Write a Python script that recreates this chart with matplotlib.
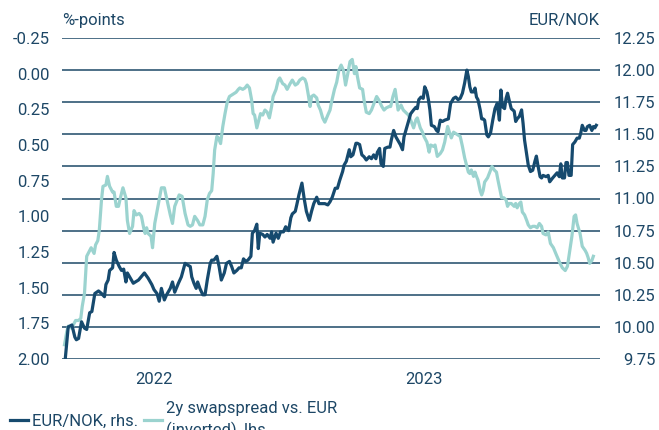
import pandas as pd
import matplotlib
matplotlib.use('Agg')
import matplotlib.pyplot as plt

plt.rcParams['font.family'] = ['Roboto', 'DejaVu Sans']

start = pd.Timestamp('2022-01-01')

# EUR/NOK (rhs), days after start
nok_days = [62, 66, 71, 75, 77, 80, 84, 88, 91, 95, 98, 102, 107, 111, 115, 117, 120, 122, 126, 128,
            131, 135, 138, 141, 144, 146, 149, 154, 161, 169, 174, 179, 182, 186, 189, 192, 196, 199, 204, 207,
            210, 215, 219, 224, 228,
            231, 233, 236, 239, 241, 244, 248, 251, 254, 258, 260, 263, 267, 270, 273, 277, 280, 284, 287, 290,
            294, 297, 300, 303, 306, 309, 313, 315, 318, 321, 323, 325, 329, 332, 335, 339, 341, 343, 347, 350,
            353, 357, 360, 364, 367, 369, 373, 375, 378, 382, 385, 388, 392, 395, 398, 402, 405, 409,
            413, 417, 420, 423, 427, 430, 433, 437, 439, 442, 446, 448, 451, 455, 457, 460, 463, 466, 469, 473,
            476, 479, 482, 484, 487, 489, 492, 494, 498, 501, 503, 506, 509, 511, 515, 518, 520, 524, 527, 529,
            533, 536, 538, 540, 543, 546, 548, 551, 553, 555, 557, 561, 564, 566, 569, 572, 575, 580, 583, 587,
            590, 593,
            596, 599, 602, 605, 607, 609, 611, 614, 616, 618, 620, 623, 625, 627, 629, 632, 634, 637, 640, 643,
            646, 649, 651, 653, 656, 658, 660, 662, 665, 669, 671, 673, 676, 679, 681, 683, 686, 688, 691, 694,
            697, 699, 701, 704, 706, 708, 712, 715, 717, 721, 724, 727, 730, 732, 734, 737, 739, 741, 743, 746,
            748, 751, 754, 757, 759, 761, 764, 766, 768, 771, 774, 776, 778, 780]
nok_vals = [9.75, 10.00, 10.015, 9.92, 9.90, 9.91, 10.04, 9.99, 9.98, 10.11, 10.12, 10.26, 10.28, 10.26, 10.235,
            10.33, 10.365, 10.44, 10.46, 10.58, 10.52, 10.47, 10.44, 10.45, 10.35, 10.42, 10.39, 10.34, 10.365,
            10.42, 10.38, 10.33, 10.29, 10.26, 10.20, 10.30, 10.21, 10.25, 10.30, 10.35, 10.27, 10.34, 10.39,
            10.495, 10.48,
            10.47, 10.39, 10.34, 10.30, 10.35, 10.30, 10.25, 10.25, 10.365, 10.495, 10.52, 10.52, 10.55, 10.47,
            10.365, 10.42, 10.495, 10.51, 10.47, 10.42, 10.44, 10.46, 10.46, 10.53, 10.51, 10.52, 10.55, 10.73,
            10.75, 10.80, 10.61, 10.73, 10.72, 10.70, 10.72, 10.69, 10.74, 10.66, 10.73, 10.69, 10.74, 10.74,
            10.78, 10.75, 10.85, 10.88, 10.90, 10.95, 11.03, 11.12, 11.00, 10.90, 10.83, 10.90, 10.96, 11.01,
            10.96, 10.96,
            10.96, 10.95, 10.975, 11.01, 11.08, 11.08, 11.14, 11.21, 11.26, 11.29, 11.38, 11.325, 11.34, 11.43,
            11.43, 11.42, 11.34, 11.325, 11.30, 11.325, 11.31, 11.34, 11.31, 11.36, 11.39, 11.27, 11.25, 11.39,
            11.40, 11.40, 11.46, 11.53, 11.48, 11.46, 11.42, 11.38, 11.48, 11.56, 11.62, 11.66, 11.69, 11.71,
            11.70, 11.77, 11.79, 11.78, 11.87, 11.83, 11.77, 11.69, 11.57, 11.56, 11.53, 11.52, 11.61, 11.60,
            11.61, 11.62, 11.74, 11.78, 11.79, 11.77,
            11.78, 11.82, 11.90, 12.00, 11.95, 11.87, 11.83, 11.83, 11.86, 11.79, 11.77, 11.69, 11.62, 11.62,
            11.61, 11.495, 11.48, 11.51, 11.61, 11.70, 11.74, 11.61, 11.845, 11.715, 11.70, 11.78, 11.82, 11.77,
            11.70, 11.68, 11.60, 11.62, 11.64, 11.69, 11.585, 11.455, 11.34, 11.26, 11.21, 11.22, 11.29, 11.33,
            11.26, 11.17, 11.16, 11.18, 11.17, 11.18, 11.13, 11.16, 11.18, 11.20, 11.17, 11.27, 11.16, 11.16,
            11.28, 11.28, 11.18, 11.18, 11.42, 11.44, 11.47, 11.47, 11.51, 11.57, 11.53, 11.53, 11.56, 11.57,
            11.53, 11.56, 11.55, 11.57]

# 2y swapspread vs. EUR (lhs, inverted), days after start
spread_days = [61, 64, 66, 71, 73, 76, 80, 83, 85, 88, 91, 93, 97, 99, 101, 103, 106, 108, 111, 113,
               117, 119, 122, 126, 128, 131, 134, 137, 140, 144, 146, 149, 153, 155, 158, 162, 165, 168, 170, 172,
               174, 178, 180, 183, 188, 192, 196, 199, 204, 207, 210, 216, 220, 224, 228,
               231, 234, 237, 241, 244, 248, 251, 254, 257, 260, 262, 264, 267, 269, 272, 275, 278, 281, 284, 287,
               290, 293, 296, 298, 302, 305, 308, 311, 314, 316, 318, 321, 323, 326, 329, 332, 335, 338, 341, 343,
               347, 350, 352, 356, 359, 362, 366, 369, 373, 376, 379, 383, 386, 388, 391, 393, 395, 398, 402, 404,
               407, 410,
               413, 417, 420, 422, 426, 429, 432, 435, 438, 441, 444, 447, 450, 453, 455, 457, 460, 464, 466, 469,
               473, 476, 480, 483, 486, 490, 493, 496, 500, 502, 505, 508, 510, 512, 516, 519, 522, 526, 529, 533,
               536, 538, 542, 545, 547, 551, 554, 556, 560, 562, 565, 569, 572, 575, 579, 582, 584, 587, 590, 593,
               596, 599, 602, 605, 607, 609, 611, 614, 616, 618, 620, 623, 625, 627, 629, 633, 636, 639, 642, 645,
               647, 650, 652, 655, 658, 660, 662, 665, 669, 671, 673, 676, 678, 680, 683, 686, 688, 691, 694, 697,
               700, 703, 706, 708, 712, 715, 718, 722, 726, 731, 734, 738, 741, 743, 747, 750, 752, 754, 758, 761,
               765, 767, 769, 771, 774, 776]
spread_vals = [1.90, 1.81, 1.77, 1.785, 1.76, 1.73, 1.73, 1.715, 1.63, 1.54, 1.28, 1.26, 1.22, 1.24, 1.26,
               1.20, 1.17, 1.10, 0.885, 0.79, 0.78, 0.72, 0.79, 0.83, 0.83, 0.93, 0.93, 0.86, 0.80, 0.87,
               1.03, 1.12, 1.07, 0.96, 0.99, 0.98, 1.00, 1.08, 1.12, 1.08, 1.12, 1.14, 1.22, 1.05, 0.91,
               0.80, 0.80, 0.87, 0.99, 1.05, 0.93, 0.85, 0.86, 0.98, 1.06,
               1.07, 1.06, 1.00, 1.03, 1.06, 1.06, 1.00, 0.885, 0.84, 0.82, 0.70, 0.535, 0.44, 0.45, 0.49,
               0.37, 0.28, 0.20, 0.16, 0.15, 0.14, 0.13, 0.11, 0.10, 0.11, 0.10, 0.08, 0.10, 0.185, 0.28,
               0.29, 0.38, 0.34, 0.28, 0.29, 0.255, 0.27, 0.31, 0.23, 0.16, 0.11, 0.045, 0.03, 0.07, 0.08,
               0.11, 0.07, 0.045, 0.08, 0.07, 0.045, 0.03, 0.04, 0.07, 0.16, 0.23, 0.16, 0.15, 0.17, 0.22,
               0.255, 0.31,
               0.34, 0.29, 0.255, 0.20, 0.11, 0.06, -0.025, -0.06, -0.025, 0.08, 0.00, -0.085, -0.10, 0.00, -0.05,
               0.02, 0.10, 0.11, 0.185, 0.27, 0.28, 0.255, 0.20, 0.16, 0.185, 0.23, 0.255, 0.24, 0.23, 0.23,
               0.16, 0.11, 0.185, 0.255, 0.22, 0.255, 0.27, 0.29, 0.325, 0.38, 0.325, 0.31, 0.38, 0.41, 0.44,
               0.48, 0.55, 0.50, 0.51, 0.50, 0.58, 0.56, 0.535, 0.48, 0.37, 0.42, 0.45, 0.41, 0.42, 0.43,
               0.44, 0.51, 0.59, 0.65, 0.69, 0.70, 0.675, 0.72, 0.69, 0.72, 0.745, 0.82, 0.85, 0.82, 0.76,
               0.73, 0.69, 0.65, 0.675, 0.69, 0.745, 0.82, 0.87, 0.87, 0.885, 0.93, 0.91, 0.91, 0.93, 0.91,
               0.94, 0.91, 0.90, 0.97, 0.99, 1.03, 1.06, 1.08, 1.07, 1.07, 1.08, 1.05, 1.07, 1.12, 1.13,
               1.11, 1.19, 1.22, 1.27, 1.33, 1.36, 1.38, 1.35, 1.28, 1.14, 1.00, 0.99, 1.05, 1.12, 1.21,
               1.24, 1.26, 1.29, 1.33, 1.31, 1.28]

year_ticks = ['2022-07-02', '2023-07-02']
year_labels = ['2022', '2023']
left_ticks = [-0.25, 0.00, 0.25, 0.50, 0.75, 1.00, 1.25, 1.50, 1.75, 2.00]
right_ticks = [9.75, 10.00, 10.25, 10.50, 10.75, 11.00, 11.25, 11.50, 11.75, 12.00, 12.25]

dark = '#164a6e'
light = '#9bd3cf'
txt = '#1d4766'
grid = '#2f5773'

nok_dates = start + pd.to_timedelta(nok_days, unit='D')
spread_dates = start + pd.to_timedelta(spread_days, unit='D')

fig = plt.figure(figsize=(6.59, 4.30), dpi=100)
ax_g = fig.add_axes([62 / 659, 1 - 359 / 430, 538 / 659, 321 / 430])
ax_l = ax_g.twinx()
ax_d = ax_g.twinx()

# grid + right-hand axis
ax_g.set_ylim(9.75, 12.25)
ax_g.set_yticks(right_ticks)
ax_g.set_yticklabels(['%.2f' % t for t in right_ticks])
ax_g.yaxis.tick_right()
ax_g.grid(axis='y', color=grid, lw=1.2)
ax_g.tick_params(axis='y', length=0, pad=40, labelsize=12, labelcolor=txt)
for lab in ax_g.get_yticklabels():
    lab.set_horizontalalignment('right')
ax_g.set_xlim(start + pd.Timedelta(days=57.6), start + pd.Timedelta(days=785))
ax_g.set_xticks(pd.to_datetime(year_ticks))
ax_g.set_xticklabels(year_labels)
ax_g.tick_params(axis='x', length=0, pad=9, labelsize=12, labelcolor=txt)

# left-hand axis (inverted spread)
l2, = ax_l.plot(spread_dates, spread_vals, color=light, lw=2.3,
                label='2y swapspread vs. EUR\n(inverted), lhs.')
ax_l.set_ylim(2.0, -0.25)
ax_l.set_yticks(left_ticks)
ax_l.set_yticklabels(['%.2f' % t for t in left_ticks])
ax_l.yaxis.tick_left()
ax_l.tick_params(axis='y', length=0, pad=9, labelsize=12, labelcolor=txt)

# EUR/NOK on top
l1, = ax_d.plot(nok_dates, nok_vals, color=dark, lw=2.3, label='EUR/NOK, rhs.')
ax_d.set_ylim(9.75, 12.25)
ax_d.set_yticks([])

for a in (ax_g, ax_l, ax_d):
    for s in a.spines.values():
        s.set_visible(False)

ax_g.text(0, 1.055, '%-points', transform=ax_g.transAxes, ha='left', va='center',
          fontsize=12, color=txt)
ax_g.text(1, 1.055, 'EUR/NOK', transform=ax_g.transAxes, ha='right', va='center',
          fontsize=12, color=txt)

leg = fig.legend(handles=[l1, l2], loc='upper left', bbox_to_anchor=(10 / 659, 1 - 401 / 430),
                 ncol=2, frameon=False, fontsize=12, labelcolor=txt, handlelength=1.1,
                 handletextpad=0.25, columnspacing=0.3, borderpad=0, borderaxespad=0)
for t in leg.get_texts():
    t.set_linespacing(1.45)

fig.savefig('out.png', dpi=100)
